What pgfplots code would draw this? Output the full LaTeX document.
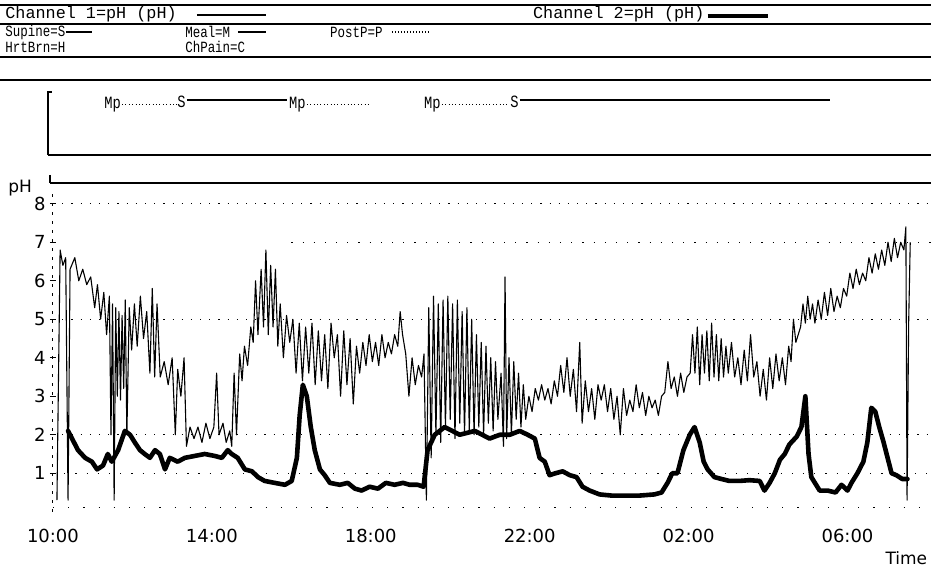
\documentclass[border=0pt]{standalone}
\usepackage{fontspec}
\setmainfont{DejaVu Sans}
\newfontfamily\hdr{Liberation Mono}
\newfontfamily\hdrc[FakeStretch=0.8]{Liberation Mono}
\usepackage{pgfplots}
\pgfplotsset{compat=1.18}

\pgfplotstableread{
h pH
10.10 0.3
10.18 6.8
10.25 6.4
10.32 6.6
10.38 0.3
10.43 6.3
10.55 6.6
10.65 6.0
10.75 6.3
10.85 5.9
10.95 6.1
11.05 5.3
11.12 5.9
11.20 5.0
11.28 5.7
11.35 4.6
11.42 5.6
11.46 2.0
11.50 5.4
11.54 0.3
11.58 5.3
11.62 3.0
11.66 5.2
11.70 2.9
11.74 5.1
11.78 3.2
11.82 5.5
11.86 2.0
11.92 5.3
11.98 4.2
12.05 5.4
12.12 4.3
12.20 5.6
12.28 4.5
12.36 5.2
12.44 3.6
12.50 5.8
12.56 3.5
12.62 5.4
12.70 3.5
12.80 3.9
12.90 3.3
13.00 4.0
13.08 2.0
13.14 3.7
13.22 3.0
13.30 4.0
13.36 1.7
13.45 2.2
13.55 1.9
13.65 2.2
13.75 1.8
13.85 2.3
13.95 1.9
14.05 2.2
14.12 3.6
14.18 2.0
14.28 2.3
14.36 1.8
14.45 2.1
14.50 1.7
14.56 3.6
14.62 2.0
14.70 4.1
14.76 3.4
14.82 4.3
14.90 3.8
14.98 4.8
15.04 4.4
15.10 6.0
15.16 4.6
15.24 6.3
15.30 4.8
15.36 6.8
15.42 4.6
15.48 6.4
15.54 4.8
15.60 6.3
15.66 4.3
15.72 5.4
15.80 4.0
15.88 5.1
15.96 4.4
16.04 5.0
16.12 3.6
16.20 4.9
16.28 3.4
16.36 4.8
16.44 3.6
16.52 4.9
16.60 3.3
16.68 4.7
16.76 3.4
16.84 4.6
16.92 3.2
17.00 4.9
17.08 4.0
17.16 4.6
17.24 3.0
17.32 4.7
17.40 3.3
17.48 4.5
17.56 2.8
17.64 4.3
17.72 3.6
17.80 4.4
17.88 3.8
17.96 4.6
18.04 3.9
18.12 4.4
18.20 3.8
18.28 4.6
18.36 4.0
18.44 4.4
18.52 4.1
18.60 4.6
18.68 4.3
18.74 5.2
18.80 4.6
18.88 4.1
18.96 3.0
19.04 4.0
19.12 3.3
19.20 3.8
19.28 3.5
19.34 4.1
19.40 0.3
19.46 5.3
19.52 1.4
19.58 5.6
19.64 2.0
19.70 5.4
19.76 1.8
19.82 5.5
19.88 2.2
19.94 5.6
20.00 2.4
20.06 5.4
20.12 1.9
20.18 5.5
20.24 2.3
20.30 5.2
20.36 2.0
20.42 5.3
20.48 2.1
20.54 5.0
20.60 2.0
20.66 4.6
20.72 2.2
20.78 4.4
20.84 2.0
20.90 4.3
20.96 2.3
21.02 4.0
21.08 2.1
21.14 3.9
21.20 2.4
21.28 3.6
21.34 1.7
21.38 6.1
21.42 1.9
21.48 4.0
21.54 2.0
21.60 3.9
21.66 2.4
21.72 3.6
21.78 2.2
21.84 3.3
21.90 2.4
21.98 3.0
22.06 2.6
22.14 3.2
22.22 2.9
22.30 3.3
22.38 2.9
22.46 3.2
22.54 2.8
22.62 3.4
22.70 3.0
22.78 3.8
22.86 3.1
22.94 4.0
23.02 3.0
23.10 3.7
23.18 2.6
23.26 4.4
23.32 2.3
23.40 3.4
23.48 2.6
23.56 3.2
23.64 2.4
23.72 3.3
23.80 2.9
23.88 3.3
23.96 2.6
24.04 3.2
24.12 2.4
24.20 3.0
24.28 2.0
24.36 3.2
24.44 2.5
24.52 2.9
24.60 2.6
24.68 3.3
24.76 2.7
24.84 3.1
24.92 2.5
25.00 3.0
25.08 2.7
25.16 2.9
25.24 2.5
25.32 3.0
25.40 3.1
25.48 3.9
25.56 3.2
25.64 3.5
25.72 3.0
25.80 3.6
25.88 3.1
25.96 3.5
26.04 3.6
26.10 4.6
26.16 3.6
26.22 4.8
26.28 3.3
26.34 4.6
26.40 3.6
26.46 4.7
26.52 3.4
26.58 4.9
26.64 3.5
26.70 4.6
26.76 3.4
26.82 4.5
26.88 3.5
26.94 4.3
27.00 3.6
27.08 4.4
27.16 3.5
27.24 4.0
27.32 3.3
27.40 4.2
27.48 3.4
27.56 4.6
27.64 3.5
27.72 3.9
27.80 3.0
27.88 3.7
27.96 2.9
28.04 4.0
28.12 3.2
28.20 4.1
28.28 3.4
28.36 4.0
28.44 3.3
28.52 4.3
28.58 3.9
28.64 5.0
28.70 4.4
28.76 4.6
28.82 4.8
28.88 5.4
28.94 4.9
29.00 5.6
29.06 5.0
29.12 5.4
29.18 4.9
29.26 5.5
29.34 5.0
29.42 5.7
29.50 5.1
29.58 5.8
29.66 5.2
29.74 5.6
29.82 5.3
29.90 5.8
29.98 5.6
30.06 6.2
30.14 5.8
30.22 6.3
30.30 5.9
30.38 6.2
30.46 6.0
30.54 6.6
30.62 6.2
30.70 6.7
30.78 6.3
30.86 6.8
30.94 6.4
31.02 7.0
31.10 6.5
31.18 7.1
31.26 6.6
31.34 7.0
31.42 6.8
31.47 7.4
31.50 0.3
31.54 4.9
31.58 7.0
}\chone

\pgfplotstableread{
h pH
10.38 2.1
10.48 1.9
10.63 1.6
10.81 1.4
10.98 1.3
11.11 1.1
11.26 1.2
11.38 1.5
11.48 1.3
11.64 1.6
11.81 2.1
11.94 2.0
12.06 1.8
12.19 1.6
12.31 1.5
12.44 1.4
12.57 1.6
12.69 1.5
12.82 1.1
12.94 1.4
13.14 1.3
13.32 1.4
13.57 1.45
13.82 1.5
14.07 1.45
14.25 1.4
14.40 1.6
14.50 1.5
14.65 1.4
14.83 1.1
15.01 1.05
15.16 0.9
15.33 0.8
15.58 0.75
15.84 0.7
16.01 0.8
16.14 1.4
16.21 2.5
16.29 3.3
16.39 3.0
16.49 2.2
16.59 1.6
16.72 1.1
16.84 0.95
16.97 0.75
17.22 0.7
17.42 0.75
17.60 0.6
17.77 0.55
17.97 0.65
18.18 0.6
18.38 0.75
18.60 0.7
18.81 0.75
18.98 0.7
19.18 0.7
19.33 0.65
19.43 1.6
19.61 2.0
19.86 2.2
20.24 2.0
20.62 2.1
20.99 1.9
21.25 2.0
21.50 2.0
21.75 2.1
21.95 2.0
22.13 1.9
22.25 1.4
22.38 1.3
22.50 0.95
22.65 1.0
22.83 1.05
23.01 0.95
23.18 0.9
23.33 0.65
23.51 0.55
23.76 0.45
24.06 0.42
24.39 0.42
24.77 0.42
25.14 0.45
25.32 0.5
25.47 0.75
25.59 1.0
25.72 1.0
25.87 1.6
26.03 2.0
26.15 2.2
26.28 1.8
26.38 1.3
26.48 1.1
26.65 0.9
26.83 0.85
27.03 0.8
27.28 0.8
27.53 0.82
27.79 0.8
27.91 0.55
28.04 0.75
28.17 1.0
28.30 1.35
28.42 1.5
28.54 1.75
28.72 1.95
28.84 2.2
28.94 3.0
29.02 1.5
29.09 0.9
29.30 0.55
29.50 0.55
29.70 0.5
29.85 0.7
30.00 0.55
30.10 0.75
30.25 1.0
30.40 1.3
30.50 1.8
30.60 2.7
30.70 2.6
30.80 2.2
30.91 1.8
31.01 1.4
31.11 1.0
31.23 0.95
31.38 0.85
31.51 0.85
}\chtwo

\begin{document}
\begin{tikzpicture}
\begin{scope}[x=0.5pt,y=-0.5pt]
\path[use as bounding box] (0,0) rectangle (931,570);
% header rules
\draw[line width=1.1pt] (0,5) -- (931,5);
\draw[line width=0.8pt] (0,24) -- (931,24);
\draw[line width=0.8pt] (0,57) -- (931,57);
\draw[line width=1pt] (0,80) -- (931,80);
\begin{scope}[every node/.style={anchor=west, inner sep=0pt, font=\hdr\fontsize{8.4}{10}\selectfont}]
\node at (5,14) {Channel 1=pH (pH)};
\draw[line width=0.6pt] (197,15) -- (266,15);
\node at (533,14) {Channel 2=pH (pH)};
\draw[line width=2.2pt] (708,16) -- (768,16);
\end{scope}
\begin{scope}[every node/.style={anchor=west, inner sep=0pt, font=\hdrc\fontsize{7.8}{9}\selectfont}]
\node at (5,32) {Supine=S};
\draw[line width=0.8pt] (66,32) -- (92,32);
\node at (185,32) {Meal=M};
\draw[line width=0.6pt] (238,32) -- (266,32);
\node at (330,32) {PostP=P};
\draw[line width=0.6pt, dash pattern=on 0.5pt off 1pt] (392,32) -- (430,32);
\node at (5,47) {HrtBrn=H};
\node at (185,47) {ChPain=C};
\end{scope}
% event bracket
\draw[line width=0.8pt] (52,92) -- (48,92) -- (48,155);
\draw[line width=1.2pt] (48,155) -- (931,155);
% top of pH plot
\draw[line width=0.6pt] (50,175) -- (50,183);
\draw[line width=1.1pt] (50,183) -- (931,183);
\node[anchor=west, inner sep=0pt, font=\fontsize{8.5}{10}\selectfont] at (8,188) {pH};
\node[anchor=east, inner sep=0pt, font=\fontsize{8.5}{10}\selectfont] at (928,558) {Time};
\end{scope}

% event axis
\begin{axis}[at={(26.5pt,-77.5pt)}, anchor=south west, scale only axis,
  width=439pt, height=31.5pt, xmin=10, xmax=32.09, ymin=0, ymax=1, hide axis, clip=false]
\addplot[black, line width=0.5pt, dash pattern=on 0.5pt off 1.2pt] coordinates {(11.74,0.8) (13.14,0.8)};
\addplot[black, line width=1pt] coordinates {(13.37,0.87) (15.89,0.87)};
\addplot[black, line width=0.5pt, dash pattern=on 0.5pt off 1.2pt] coordinates {(16.39,0.8) (17.97,0.8)};
\addplot[black, line width=0.5pt, dash pattern=on 0.5pt off 1.2pt] coordinates {(19.79,0.8) (21.50,0.8)};
\addplot[black, line width=1pt] coordinates {(21.75,0.87) (29.55,0.87)};
\begin{scope}[every node/.style={inner sep=0pt, font=\hdrc\fontsize{8.6}{10}\selectfont}]
\node[anchor=east] at (axis cs:11.72,0.8) {Mp};
\node[anchor=east] at (axis cs:13.35,0.84) {S};
\node[anchor=east] at (axis cs:16.37,0.8) {Mp};
\node[anchor=east] at (axis cs:19.77,0.8) {Mp};
\node[anchor=east] at (axis cs:21.73,0.84) {S};
\end{scope}
\end{axis}

% main pH axis
\begin{axis}[at={(26.5pt,-256pt)}, anchor=south west, scale only axis,
  width=439pt, height=161pt, xmin=10, xmax=32.09, ymin=0, ymax=8.36,
  axis lines*=left,
  x axis line style={draw=none},
  y axis line style={-, line width=0.5pt, dash pattern=on 1.5pt off 3pt},
  xtick={10,14,18,22,26,30},
  xticklabels={10:00,14:00,18:00,22:00,02:00,06:00},
  x tick style={draw=none},
  ytick={1,2,3,4,5,6,7,8},
  yticklabels={1,2,3,4,5,6,7,8},
  y tick style={black, line width=0.5pt},
  major tick length=3pt, tick align=center,
  tick label style={font=\fontsize{9}{10}\selectfont},
  yticklabel style={inner sep=0pt, anchor=east, xshift=-2pt},
  xticklabel style={inner sep=0pt, anchor=north, yshift=-7pt},
  clip=false]
\addplot[black, line width=0.5pt, dash pattern=on 0.6pt off 4pt] coordinates {(10,8) (32.09,8)};
\addplot[black, line width=0.5pt, dash pattern=on 0.6pt off 5pt] coordinates {(16,7) (32.09,7)};
\addplot[black, line width=0.5pt, dash pattern=on 0.6pt off 4pt] coordinates {(10,5) (32.09,5)};
\addplot[black, line width=0.5pt, dash pattern=on 0.6pt off 4pt] coordinates {(10,2) (32.09,2)};
\addplot[black, line width=0.5pt, dash pattern=on 0.6pt off 5pt] coordinates {(10,1) (32.09,1)};
\addplot[black, line width=0.5pt, dash pattern=on 0.6pt off 7pt] coordinates {(10,0.12) (32.09,0.12)};
\addplot[black, line width=0.55pt, line join=round] table[x=h, y=pH] {\chone};
\addplot[black, line width=2.3pt, line join=round, line cap=round] table[x=h, y=pH] {\chtwo};
\end{axis}
\end{tikzpicture}
\end{document}
